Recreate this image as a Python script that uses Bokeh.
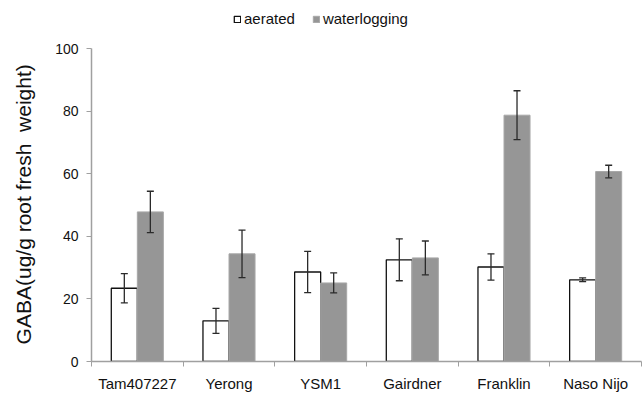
from bokeh.plotting import figure
from bokeh.models import (ColumnDataSource, Whisker, TeeHead, FixedTicker, Legend,
                          LegendItem, Range1d)
from bokeh.embed import file_html
from bokeh.resources import INLINE

cultivars = ["Tam407227", "Yerong", "YSM1", "Gairdner", "Franklin", "Naso Nijo"]
aerated = [23.4, 13.0, 28.6, 32.5, 30.2, 26.1]
aerated_err = [4.7, 4.0, 6.6, 6.7, 4.2, 0.6]
waterlogging = [47.8, 34.4, 25.1, 33.1, 78.7, 60.7]
waterlogging_err = [6.6, 7.6, 3.2, 5.4, 7.8, 2.0]
y_ticks = [0, 20, 40, 60, 80, 100]
y_label = "GABA(ug/g root fresh  weight)"

FONT = "Liberation Sans"
BW = 0.284
centers = [i + 0.5 for i in range(len(cultivars))]
xa = [c - BW / 2 for c in centers]
xw = [c + BW / 2 for c in centers]

src_a = ColumnDataSource(dict(x=xa, top=aerated,
                              up=[v + e for v, e in zip(aerated, aerated_err)],
                              lo=[v - e for v, e in zip(aerated, aerated_err)]))
src_w = ColumnDataSource(dict(x=xw, top=waterlogging,
                              up=[v + e for v, e in zip(waterlogging, waterlogging_err)],
                              lo=[v - e for v, e in zip(waterlogging, waterlogging_err)]))

# frame extends to the top edge so the legend can sit above the 100 line
p = figure(width=642, height=394, output_backend="svg", toolbar_location=None,
           x_range=Range1d(0, len(cultivars)), y_range=Range1d(0, 115.34),
           min_border_left=91, min_border_right=1, min_border_top=0, min_border_bottom=33)
p.outline_line_color = None
p.grid.grid_line_color = None
p.background_fill_color = "white"

r_a = p.vbar(x="x", top="top", width=BW, bottom=0, source=src_a,
             fill_color="white", line_color="#111111", line_width=1.3)
r_w = p.vbar(x="x", top="top", width=BW, bottom=0, source=src_w,
             fill_color="#969696", line_color="#a8a8a8", line_width=1)

for src in (src_a, src_w):
    w = Whisker(base="x", upper="up", lower="lo", source=src, dimension="height",
                line_color="#2a2a2a", line_width=1.3, level="overlay",
                upper_head=TeeHead(size=7, line_color="#2a2a2a", line_width=1.3),
                lower_head=TeeHead(size=7, line_color="#2a2a2a", line_width=1.3))
    p.add_layout(w)

# x axis: labels at centres, small ticks at category boundaries
xa_ax = p.xaxis[0]
xa_ax.ticker = FixedTicker(ticks=centers, minor_ticks=list(range(len(cultivars) + 1)))
xa_ax.major_label_overrides = {c: n for c, n in zip(centers, cultivars)}
xa_ax.major_tick_out = 0
xa_ax.major_tick_in = 0
xa_ax.minor_tick_out = 5
xa_ax.minor_tick_in = 0
xa_ax.minor_tick_line_color = "#a0a0a0"
xa_ax.axis_line_color = "#a0a0a0"
xa_ax.axis_line_width = 1.5
xa_ax.major_label_text_font = FONT
xa_ax.major_label_text_font_size = "15px"
xa_ax.major_label_text_color = "#111111"
xa_ax.major_label_standoff = 8

ya = p.yaxis[0]
ya.bounds = (0, 100)
ya.ticker = FixedTicker(ticks=y_ticks)
ya.minor_tick_line_color = None
ya.major_tick_out = 5
ya.major_tick_in = 0
ya.major_tick_line_color = "#a0a0a0"
ya.axis_line_color = "#a0a0a0"
ya.axis_line_width = 1.5
ya.major_label_text_font = FONT
ya.major_label_text_font_size = "14px"
ya.major_label_text_color = "#111111"
ya.major_label_standoff = 8
# keep the double space visible; trailing no-break spaces shift the label
# down so it centres on the 0-100 span of the axis
ya.axis_label = y_label.replace("  ", "\u00a0 ") + "\u00a0" * 8
ya.axis_label_text_font = FONT
ya.axis_label_text_font_size = "21px"
ya.axis_label_text_font_style = "normal"
ya.axis_label_text_color = "#111111"
ya.axis_label_standoff = 17

legend = Legend(items=[LegendItem(label="aerated", renderers=[r_a]),
                       LegendItem(label="waterlogging", renderers=[r_w])],
                orientation="horizontal", location=(142, 334),
                label_text_font=FONT, label_text_font_size="15px",
                label_text_color="#111111", glyph_width=8, glyph_height=8,
                label_standoff=3, spacing=17, padding=2, margin=0,
                border_line_color=None, background_fill_alpha=0)
p.add_layout(legend, "center")

open("out.html", "w").write(file_html(p, INLINE))
